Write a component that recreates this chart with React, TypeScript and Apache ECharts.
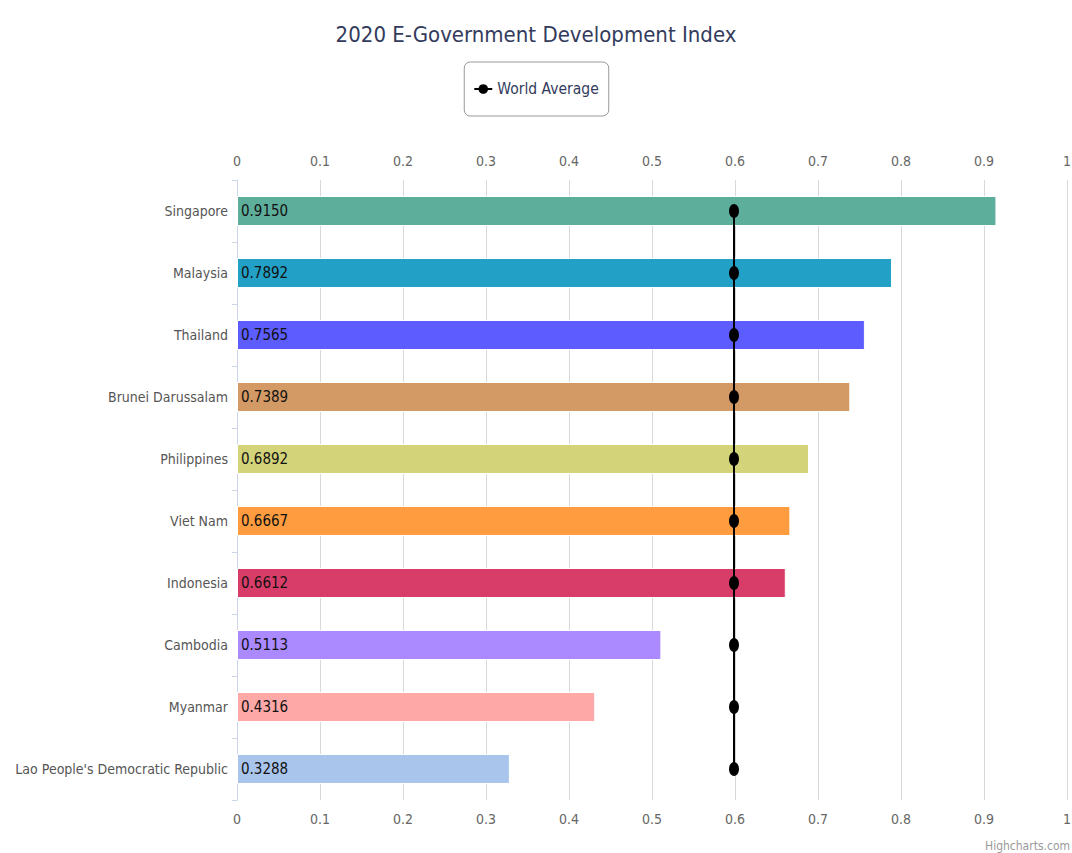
import React, { useEffect, useRef } from "react";
import * as echarts from "echarts";

const categories = [
  "Singapore",
  "Malaysia",
  "Thailand",
  "Brunei Darussalam",
  "Philippines",
  "Viet Nam",
  "Indonesia",
  "Cambodia",
  "Myanmar",
  "Lao People's Democratic Republic",
];
const egdiValues = [0.915, 0.7892, 0.7565, 0.7389, 0.6892, 0.6667, 0.6612, 0.5113, 0.4316, 0.3288];
const worldAverage = [0.5988, 0.5988, 0.5988, 0.5988, 0.5988, 0.5988, 0.5988, 0.5988, 0.5988, 0.5988];
const barColors = [
  "#5eae9c",
  "#23a0c5",
  "#5c5cff",
  "#d49a65",
  "#d3d37a",
  "#ff9c3f",
  "#d83c68",
  "#ab89ff",
  "#ffa8a8",
  "#a9c5ec",
];
const xTicks = [0, 0.1, 0.2, 0.3, 0.4, 0.5, 0.6, 0.7, 0.8, 0.9, 1];

const FONT = "'Liberation Sans Narrow', 'DejaVu Sans Condensed', 'Noto Sans', sans-serif";

export default function App() {
  const ref = useRef<HTMLDivElement>(null);
  useEffect(() => {
    if (!ref.current) return;
    const chart = echarts.init(ref.current, null, { renderer: "svg" });
    const xAxisCommon = {
      type: "value" as const,
      min: xTicks[0],
      max: xTicks[xTicks.length - 1],
      interval: 0.1,
      axisLine: { show: false },
      axisTick: { show: false },
      axisLabel: {
        color: "#666666",
        fontFamily: FONT,
        fontSize: 14,
        margin: 12,
        formatter: (v: number) => (v === 0 ? "0" : v === 1 ? "1" : String(Math.round(v * 10) / 10)),
      },
    };
    chart.setOption({
      animation: false,
      backgroundColor: "#ffffff",
      title: {
        text: "2020 E-Government Development Index",
        left: "center",
        top: 18,
        textStyle: {
          fontFamily: FONT,
          fontSize: 22,
          fontWeight: "normal",
          color: "#333b5c",
        },
      },
      legend: {
        top: 62,
        left: "center",
        data: ["World Average"],
        borderColor: "#999999",
        borderWidth: 1,
        borderRadius: 6,
        padding: [19, 10, 19, 9],
        itemWidth: 18,
        itemHeight: 12,
        itemGap: 4,
        textStyle: { fontFamily: FONT, fontSize: 15.5, color: "#333b5c" },
      },
      grid: { left: 237, right: 5, top: 180, bottom: 53, containLabel: false, outerBoundsMode: "none" },
      xAxis: [
        {
          ...xAxisCommon,
          position: "bottom",
          splitLine: { show: true, lineStyle: { color: "#d8d8d8", width: 1 } },
        },
        {
          ...xAxisCommon,
          position: "top",
          splitLine: { show: false },
        },
      ],
      yAxis: {
        type: "category",
        data: categories,
        inverse: true,
        axisLine: { show: true, lineStyle: { color: "#ccd6eb" } },
        axisTick: { show: true, length: 5, lineStyle: { color: "#ccd6eb" } },
        axisLabel: {
          color: "#555555",
          fontFamily: FONT,
          fontSize: 14,
          margin: 9,
        },
      },
      series: [
        {
          name: "EGDI",
          type: "bar",
          xAxisIndex: 0,
          data: egdiValues.map((v, i) => ({ value: v, itemStyle: { color: barColors[i] } })),
          barWidth: 30,
          itemStyle: { borderColor: "#ffffff", borderWidth: 1 },
          label: {
            show: true,
            position: "insideLeft",
            distance: 4,
            color: "#111111",
            fontFamily: FONT,
            fontSize: 15,
            formatter: (p: any) => Number(p.value).toFixed(4),
          },
          z: 2,
        },
        {
          name: "World Average",
          type: "line",
          xAxisIndex: 0,
          data: worldAverage,
          symbol: "circle",
          symbolSize: [10, 14],
          lineStyle: { color: "#000000", width: 2 },
          itemStyle: { color: "#000000" },
          z: 5,
        },
      ],
      graphic: [
        {
          type: "text",
          right: 2,
          bottom: 1,
          style: {
            text: "Highcharts.com",
            fill: "#999999",
            font: `12px ${FONT}`,
          },
        },
      ],
    });
    return () => chart.dispose();
  }, []);
  return (
    <div
      ref={ref}
      style={{ position: "fixed", left: 0, top: 0, width: 1072, height: 853 }}
    />
  );
}
